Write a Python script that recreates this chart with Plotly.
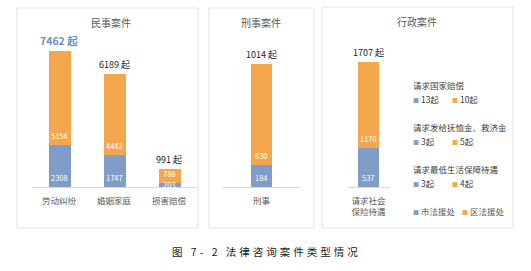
import plotly.graph_objects as go

# ---------------- data ----------------
civil_categories = ["劳动纠纷", "婚姻家庭", "损害赔偿"]
civil_city = [2308, 1747, 203]
civil_district = [5154, 4442, 788]
civil_total = [7462, 6189, 991]

criminal_categories = ["刑事"]
criminal_city = [184]
criminal_district = [830]
criminal_total = [1014]

admin_categories = ["请求社会<br>保险待遇"]
admin_city = [537]
admin_district = [1170]
admin_total = [1707]

admin_sub_names = ["请求国家赔偿", "请求发给抚恤金、救济金", "请求最低生活保障待遇"]
admin_sub_city = [13, 3, 3]
admin_sub_district = [10, 5, 4]

series_names = ["市法援处", "区法援处"]
panel_titles = ["民事案件", "刑事案件", "行政案件"]
caption = "图 7- 2 法律咨询案件类型情况"

BLUE = "#7F9DC6"
ORANGE = "#F3A64B"
FONT = "Noto Sans CJK SC"
W, H = 531, 271


def px(x):
    return x / W


def py(y):
    return 1 - y / H


base = 187
top = 40
scales = [0.01825, 0.1215, 0.0735]

fig = go.Figure()

panels = [
    (civil_categories, civil_city, civil_district, civil_total, "x", "y", 0.4),
    (criminal_categories, criminal_city, criminal_district, criminal_total, "x2", "y2", 0.27),
    (admin_categories, admin_city, admin_district, admin_total, "x3", "y3", 0.51),
]


def inner_label(c, b, v, xr, yr, s):
    # Excel-like "inside base" label; centred when the segment is too short
    if v * s < 10:
        return dict(x=c, y=b + v / 2, xref=xr, yref=yr, text=str(v), showarrow=False,
                    yanchor="middle", yshift=1,
                    font=dict(family=FONT, size=7.5, color="white"))
    return dict(x=c, y=b, xref=xr, yref=yr, text=str(v), showarrow=False,
                yanchor="bottom", yshift=2,
                font=dict(family=FONT, size=7.5, color="white"))


annotations = []
for i, (cats, city, dist, tot, xa, ya, bw) in enumerate(panels):
    fig.add_trace(go.Bar(x=cats, y=city, name=series_names[0], marker_color=BLUE,
                         marker_line_width=0, width=bw, xaxis=xa, yaxis=ya,
                         showlegend=False, hoverinfo="skip"))
    fig.add_trace(go.Bar(x=cats, y=dist, name=series_names[1], marker_color=ORANGE,
                         marker_line_width=0, width=bw, xaxis=xa, yaxis=ya,
                         showlegend=False, hoverinfo="skip"))
    s = scales[i]
    for c, v1, v2, t in zip(cats, city, dist, tot):
        annotations.append(inner_label(c, 0, v1, xa, ya, s))
        annotations.append(inner_label(c, v1, v2, xa, ya, s))
        big = (t == max(civil_total))
        annotations.append(dict(x=c, y=t, xref=xa, yref=ya,
                                text=(f"<b>{t} 起</b>" if big else f"{t} 起"),
                                showarrow=False, yanchor="bottom", yshift=1,
                                font=dict(family=FONT, size=10.5 if big else 9,
                                          color="#6E8FC2" if big else "#262626")))

# panel titles
for t, x, y in zip(panel_titles, [111, 261, 417], [22, 22, 21]):
    annotations.append(dict(x=px(x), y=py(y), xref="paper", yref="paper", text=t,
                            showarrow=False, xanchor="center", yanchor="middle",
                            font=dict(family=FONT, size=10, color="#595959")))

# administrative sub-item legend
sq = lambda col: f"<span style='color:{col};font-size:6px'>■</span>"
rows_y = [85, 127, 169]
for name, c, d, y in zip(admin_sub_names, admin_sub_city, admin_sub_district, rows_y):
    annotations.append(dict(x=px(411), y=py(y), xref="paper", yref="paper", text=name,
                            showarrow=False, xanchor="left", yanchor="middle",
                            font=dict(family=FONT, size=8.5, color="#404040")))
    annotations.append(dict(x=px(411), y=py(y + 14), xref="paper", yref="paper",
                            text=f"{sq(BLUE)} {c}起", showarrow=False,
                            xanchor="left", yanchor="middle",
                            font=dict(family=FONT, size=8.5, color="#404040")))
    annotations.append(dict(x=px(450), y=py(y + 14), xref="paper", yref="paper",
                            text=f"{sq(ORANGE)} {d}起", showarrow=False,
                            xanchor="left", yanchor="middle",
                            font=dict(family=FONT, size=8.5, color="#404040")))

# series legend
for name, col, x in zip(series_names, [BLUE, ORANGE], [411, 460]):
    annotations.append(dict(x=px(x), y=py(211), xref="paper", yref="paper",
                            text=f"{sq(col)} {name}", showarrow=False,
                            xanchor="left", yanchor="middle",
                            font=dict(family=FONT, size=8.5, color="#595959")))

# caption
annotations.append(dict(x=px(266), y=py(251), xref="paper", yref="paper",
                        text=f"<span style='letter-spacing:3px'>{caption}</span>",
                        showarrow=False, xanchor="center", yanchor="middle",
                        font=dict(family=FONT, size=10.5, color="#1a1a1a")))

# panel frames
shapes = []
for x0, x1, y0, y1 in [(17, 198, 8, 228), (209, 314, 8, 228), (322, 513, 7, 228)]:
    shapes.append(dict(type="rect", xref="paper", yref="paper",
                       x0=px(x0), x1=px(x1), y0=py(y1), y1=py(y0),
                       line=dict(color="#E3E3E3", width=1), fillcolor="rgba(0,0,0,0)"))

ydom = [py(base), py(top)]
xaxis_common = dict(showline=True, linecolor="#D9D9D9", linewidth=1, ticks="",
                    showgrid=False, zeroline=False, fixedrange=True,
                    ticklabelstandoff=6,
                    tickfont=dict(family=FONT, size=8.5, color="#595959"))
yaxis_common = dict(visible=False, showgrid=False, zeroline=False, fixedrange=True)

fig.update_layout(
    width=W, height=H, autosize=False,
    margin=dict(l=0, r=0, t=0, b=0),
    paper_bgcolor="white", plot_bgcolor="rgba(0,0,0,0)",
    barmode="stack", bargap=0,
    font=dict(family=FONT),
    xaxis=dict(domain=[px(31.5), px(196.5)], anchor="y", **xaxis_common),
    yaxis=dict(domain=ydom, anchor="x", range=[0, (base - top) / scales[0]], **yaxis_common),
    xaxis2=dict(domain=[px(222), px(301)], anchor="y2", **xaxis_common),
    yaxis2=dict(domain=ydom, anchor="x2", range=[0, (base - top) / scales[1]], **yaxis_common),
    xaxis3=dict(domain=[px(347), px(390)], anchor="y3", **xaxis_common),
    yaxis3=dict(domain=ydom, anchor="x3", range=[0, (base - top) / scales[2]], **yaxis_common),
    annotations=annotations,
    shapes=shapes,
)

fig.write_html("out.html")
